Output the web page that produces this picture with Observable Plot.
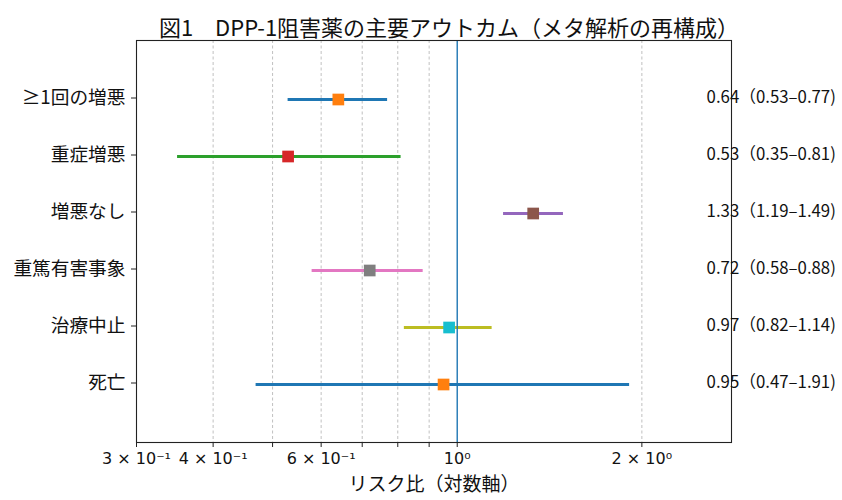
<!DOCTYPE html>
<html>
<head>
<meta charset="utf-8">
<script src="https://cdn.jsdelivr.net/npm/d3@7"></script>
<script src="https://cdn.jsdelivr.net/npm/@observablehq/plot@0.6"></script>
<style>
  html, body { margin: 0; padding: 0; background: white; }
</style>
</head>
<body>
<div id="chart"></div>
<script>
const titleText = "図1　DPP-1阻害薬の主要アウトカム（メタ解析の再構成）";
const xLabelText = "リスク比（対数軸）";
const outcomes = ["≥1回の増悪", "重症増悪", "増悪なし", "重篤有害事象", "治療中止", "死亡"];
const riskRatio = [0.64, 0.53, 1.33, 0.72, 0.97, 0.95];
const ciLow = [0.53, 0.35, 1.19, 0.58, 0.82, 0.47];
const ciHigh = [0.77, 0.81, 1.49, 0.88, 1.14, 1.91];
const lineColors = ["#1f77b4", "#2ca02c", "#9467bd", "#e377c2", "#bcbd22", "#1f77b4"];
const markerColors = ["#ff7f0e", "#d62728", "#8c564b", "#7f7f7f", "#17becf", "#ff7f0e"];
const xTicks = [0.3, 0.4, 0.5, 0.6, 0.7, 0.8, 0.9, 1, 2];
const xTickLabels = ["3 × 10⁻¹", "4 × 10⁻¹", "", "6 × 10⁻¹", "", "", "", "10⁰", "2 × 10⁰"];
const gridTicks = [0.3, 0.4, 0.5, 0.6, 0.7, 0.8, 0.9, 2];
const xDomain = [0.3, 2.8];
const annotX = 2.55;

const fmt = v => v.toFixed(2);
const data = outcomes.map((name, i) => ({
  name,
  rr: riskRatio[i],
  lo: ciLow[i],
  hi: ciHigh[i],
  lineColor: lineColors[i],
  markerColor: markerColors[i],
  label: `${fmt(riskRatio[i])}（${fmt(ciLow[i])}–${fmt(ciHigh[i])})`
}));

const cjk = "'Noto Sans CJK JP', 'Noto Sans', sans-serif";

const chart = Plot.plot({
  width: 842,
  height: 500,
  marginLeft: 136,
  marginRight: 111,
  marginTop: 40,
  marginBottom: 58,
  style: { fontFamily: cjk, background: "white", color: "#111" },
  x: { type: "log", domain: xDomain },
  y: { type: "point", domain: outcomes, padding: 1 },
  color: { type: "identity" },
  marks: [
    Plot.gridX(gridTicks, { stroke: "#b0b0b0", strokeOpacity: 1, strokeWidth: 0.8, strokeDasharray: "3,2.5" }),
    Plot.ruleY(data, { x1: "lo", x2: "hi", y: "name", stroke: "lineColor", strokeWidth: 3 }),
    Plot.ruleX([1], { stroke: "#1f77b4", strokeWidth: 1.4 }),
    Plot.dot(data, { x: "rr", y: "name", symbol: "square", r: 6.6, fill: "markerColor", stroke: "none" }),
    Plot.frame({ stroke: "#222", strokeWidth: 1.1 }),
    Plot.axisY({ fontSize: 18.7, tickSize: 5, tickPadding: 6, label: null, stroke: "#222", dy: -1.5 }),
    Plot.axisX(xTicks, {
      tickFormat: d => xTickLabels[xTicks.indexOf(d)],
      fontSize: 16, tickSize: 5, tickPadding: 5, label: null,
      fontFamily: "'DejaVu Sans', sans-serif", stroke: "#222"
    }),
    Plot.text(data, { x: d => annotX, y: "name", text: "label", textAnchor: "start", fontSize: 16.8, fill: "#111", dy: -1.5 }),
    Plot.text([titleText], { frameAnchor: "top", dx: 15, dy: -20, fontSize: 22, fill: "#111" }),
    Plot.text([xLabelText], { frameAnchor: "bottom", dy: 48, fontSize: 19, fill: "#111" })
  ]
});

document.getElementById("chart").append(chart);
</script>
</body>
</html>
